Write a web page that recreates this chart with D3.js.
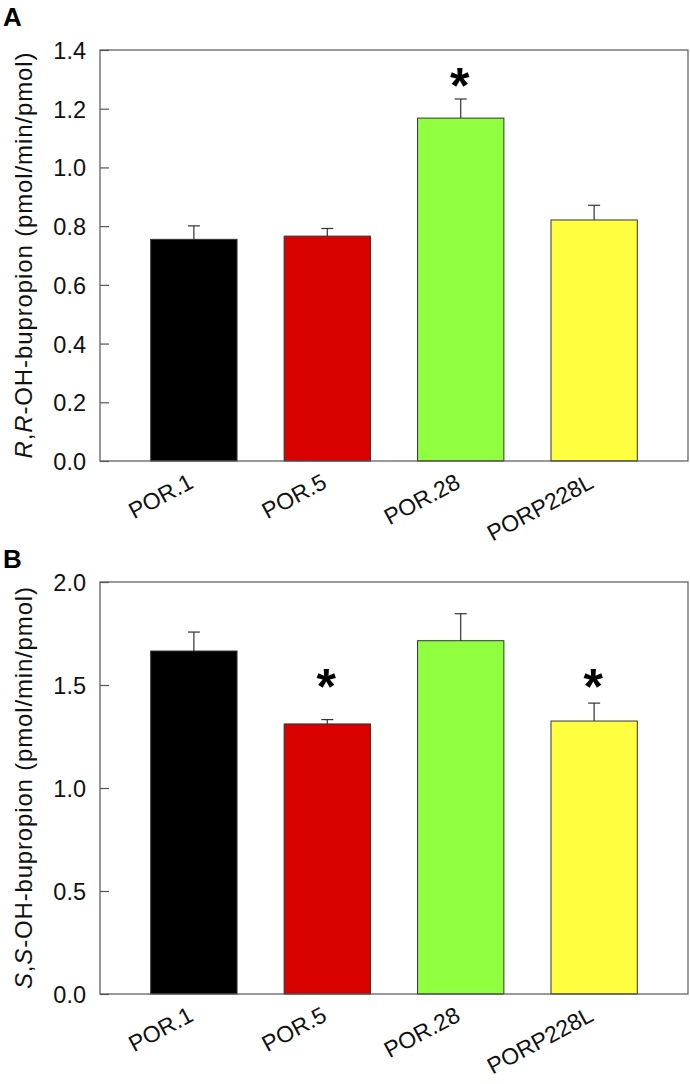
<!DOCTYPE html>
<html><head><meta charset="utf-8">
<script src="https://cdn.jsdelivr.net/npm/d3@7/dist/d3.min.js"></script>
<style>body{margin:0;background:#fff}svg{display:block}</style>
</head><body>
<script>
const categories = ["POR.1","POR.5","POR.28","PORP228L"];
const colors = ["#000000","#d90000","#8fff3f","#ffff40"];
const valuesA = [0.755, 0.766, 1.168, 0.821];
const errorsA = [0.046, 0.026, 0.065, 0.050];
const sigLevelA = [null, null, 1.31, null];
const ticksA = [0.0,0.2,0.4,0.6,0.8,1.0,1.2,1.4];
const valuesB = [1.665, 1.311, 1.715, 1.325];
const errorsB = [0.092, 0.021, 0.131, 0.087];
const sigLevelB = [null, 1.54, null, 1.54];
const ticksB = [0.0,0.5,1.0,1.5,2.0];

const W = 690, H = 1084;
const svg = d3.select("body").append("svg").attr("width", W).attr("height", H);
const font = "Arial, 'Liberation Sans', sans-serif";

function panel(o){
  const g = svg.append("g");
  const x = d3.scaleBand().domain(categories).range([o.left,o.right]).paddingInner(0.353).paddingOuter(0.38);
  const y = d3.scaleLinear().domain([0,o.max]).range([o.bottom,o.top]);
  g.selectAll("rect.bar").data(o.values).join("rect")
    .attr("x",(d,i)=>x(categories[i])).attr("width",x.bandwidth())
    .attr("y",d=>y(d)).attr("height",d=>y(0)-y(d))
    .attr("fill",(d,i)=>colors[i]).attr("stroke","#333").attr("stroke-width",1);
  o.values.forEach((v,i)=>{
    const cx = x(categories[i])+x.bandwidth()/2;
    const top = y(v+o.errors[i]);
    g.append("line").attr("x1",cx).attr("x2",cx).attr("y1",y(v)).attr("y2",top).attr("stroke","#333").attr("stroke-width",1.2);
    g.append("line").attr("x1",cx-6).attr("x2",cx+6).attr("y1",top).attr("y2",top).attr("stroke","#333").attr("stroke-width",1.2);
    if(o.sig[i]!=null){
      g.append("text").attr("x",cx-1).attr("y",y(o.sig[i])+27).attr("text-anchor","middle")
        .attr("font-family",font).attr("font-weight","bold").attr("font-size",50).text("*");
    }
  });
  g.append("rect").attr("x",o.left).attr("y",o.top).attr("width",o.right-o.left).attr("height",o.bottom-o.top)
    .attr("fill","none").attr("stroke","#555").attr("stroke-width",1.2);
  const ax = g.append("g").attr("transform",`translate(${o.left},0)`)
    .call(d3.axisRight(y).tickValues(o.ticks).tickFormat(d3.format(".1f")).tickSize(9).tickPadding(0));
  ax.select(".domain").remove();
  ax.selectAll(".tick line").attr("stroke","#555").attr("stroke-width",1.2);
  ax.selectAll(".tick text").attr("x",-14).attr("text-anchor","end").attr("font-family",font).attr("font-size",23.5).attr("fill","#111").attr("dy","0.36em");
  categories.forEach((c,i)=>{
    const cx = x(c)+x.bandwidth()/2;
    g.append("text").attr("transform",`translate(${cx+1},${o.bottom+26}) rotate(-28)`)
      .attr("text-anchor","end").attr("font-family",font).attr("font-size",23).attr("fill","#111").text(c);
  });
  const t = g.append("text").attr("transform",`translate(${o.titleX},${(o.top+o.bottom)/2}) rotate(-90)`)
    .attr("text-anchor","middle").attr("font-family",font).attr("font-size",24).attr("fill","#111")
    .attr("textLength",o.titleLen).attr("lengthAdjust","spacing");
  t.append("tspan").attr("font-style","italic").text(o.t1);
  t.append("tspan").text(",");
  t.append("tspan").attr("font-style","italic").text(o.t2);
  t.append("tspan").text(o.t3);
  g.append("text").attr("x",3).attr("y",o.labelY).attr("font-family",font).attr("font-weight","bold").attr("font-size",26).attr("fill","#000").text(o.label);
}

panel({left:100,right:688,top:50,bottom:461,max:1.4,values:valuesA,errors:errorsA,sig:sigLevelA,ticks:ticksA,
  titleX:32,titleLen:406,t1:"R",t2:"R",t3:"-OH-bupropion (pmol/min/pmol)",label:"A",labelY:26});
panel({left:100,right:688,top:582,bottom:994,max:2.0,values:valuesB,errors:errorsB,sig:sigLevelB,ticks:ticksB,
  titleX:32,titleLen:402,t1:"S",t2:"S",t3:"-OH-bupropion (pmol/min/pmol)",label:"B",labelY:568});
</script>
</body></html>
